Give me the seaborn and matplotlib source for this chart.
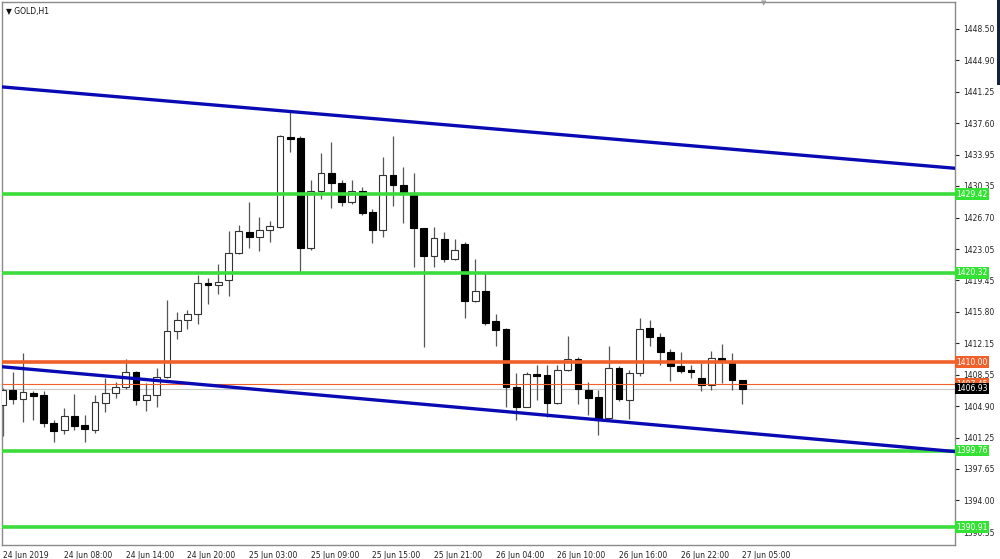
import numpy as np
import pandas as pd
import matplotlib
matplotlib.use("Agg")
import matplotlib.pyplot as plt
import matplotlib.transforms as mtransforms
import seaborn as sns

# ---------------- data (GOLD, H1) ----------------
opens = [1405.0, 1406.8, 1405.7, 1406.4, 1406.2, 1402.9, 1402.1, 1403.8, 1402.7, 1402.2,
         1405.3, 1406.4, 1407.1, 1408.9, 1405.6, 1406.2, 1408.3, 1413.6, 1414.9, 1415.6,
         1419.1, 1418.9, 1419.5, 1422.6, 1425.0, 1424.4, 1425.3, 1425.6, 1436.0, 1435.9,
         1423.2, 1429.8, 1431.8, 1430.7, 1428.5, 1429.8, 1427.3, 1425.3, 1431.6, 1430.5,
         1429.3, 1425.5, 1422.3, 1424.2, 1421.9, 1423.6, 1417.0, 1418.2, 1414.7, 1413.8,
         1407.1, 1404.8, 1408.6, 1408.5, 1405.3, 1409.1, 1410.3, 1406.8, 1406.0, 1403.5,
         1409.3, 1405.6, 1408.7, 1413.9, 1412.9, 1411.2, 1409.5, 1409.1, 1408.2, 1407.4,
         1410.5, 1409.9, 1407.9]
closes = [1406.8, 1405.7, 1406.5, 1406.1, 1402.9, 1402.0, 1403.8, 1402.6, 1402.3, 1405.4,
          1406.4, 1407.1, 1408.9, 1405.6, 1406.2, 1408.3, 1413.6, 1414.9, 1415.6, 1419.1,
          1418.9, 1419.2, 1422.6, 1425.1, 1424.4, 1425.3, 1425.7, 1436.1, 1435.8, 1423.2,
          1429.8, 1431.8, 1430.7, 1428.5, 1429.8, 1427.2, 1425.3, 1431.6, 1430.5, 1429.5,
          1425.5, 1422.3, 1424.3, 1421.9, 1423.0, 1417.0, 1418.2, 1414.5, 1413.7, 1407.1,
          1404.8, 1408.6, 1408.4, 1405.3, 1409.1, 1410.3, 1406.9, 1405.9, 1403.5, 1409.3,
          1405.7, 1408.7, 1413.8, 1412.9, 1411.2, 1409.5, 1409.0, 1408.8, 1407.4, 1410.5,
          1410.2, 1407.9, 1406.93]
highs = [1407.0, 1408.9, 1411.0, 1406.7, 1406.6, 1403.3, 1404.7, 1406.3, 1403.9, 1406.2,
         1408.1, 1407.7, 1410.4, 1409.0, 1407.6, 1409.3, 1417.2, 1415.8, 1416.0, 1420.1,
         1419.7, 1421.3, 1425.1, 1425.8, 1428.5, 1426.8, 1426.3, 1436.2, 1438.9, 1436.1,
         1431.0, 1434.2, 1435.4, 1431.1, 1431.1, 1430.2, 1427.7, 1433.7, 1436.1, 1432.5,
         1431.8, 1425.5, 1425.6, 1425.0, 1424.2, 1423.9, 1421.9, 1420.3, 1415.6, 1413.9,
         1408.7, 1408.8, 1409.6, 1409.6, 1409.6, 1413.0, 1410.6, 1407.7, 1406.8, 1411.9,
         1409.5, 1409.1, 1415.1, 1414.9, 1413.4, 1411.5, 1411.2, 1409.6, 1409.9, 1411.3,
         1412.1, 1411.1, 1407.9]
lows = [1401.4, 1405.2, 1403.1, 1403.3, 1402.5, 1400.7, 1401.7, 1402.1, 1400.7, 1401.8,
        1404.2, 1405.8, 1406.9, 1405.0, 1404.3, 1404.8, 1408.2, 1412.7, 1413.8, 1414.4,
        1416.7, 1417.9, 1417.6, 1422.5, 1423.2, 1422.8, 1423.9, 1425.5, 1434.3, 1420.3,
        1422.9, 1428.9, 1427.8, 1428.0, 1428.3, 1427.0, 1423.8, 1424.5, 1428.0, 1426.1,
        1421.0, 1411.7, 1421.0, 1421.6, 1421.8, 1415.1, 1416.9, 1414.3, 1411.8, 1404.8,
        1403.3, 1404.8, 1405.6, 1403.7, 1405.2, 1409.0, 1405.1, 1403.9, 1401.6, 1403.3,
        1405.5, 1403.4, 1408.4, 1411.8, 1409.7, 1407.8, 1408.7, 1408.1, 1406.6, 1406.8,
        1407.6, 1406.8, 1405.1]

time_labels = ['24 Jun 2019', '24 Jun 08:00', '24 Jun 14:00', '24 Jun 20:00', '25 Jun 03:00',
               '25 Jun 09:00', '25 Jun 15:00', '25 Jun 21:00', '26 Jun 04:00', '26 Jun 10:00',
               '26 Jun 16:00', '26 Jun 22:00', '27 Jun 05:00']
price_ticks = [1448.50, 1444.90, 1441.25, 1437.60, 1433.95, 1430.35, 1426.70, 1423.05,
               1419.45, 1415.80, 1412.15, 1408.55, 1404.90, 1401.25, 1397.65, 1394.00, 1390.35]

# channel lines (bar index -> price)
channel_x = [0, 92.7]
channel_upper = [1441.8, 1432.4]
channel_lower = [1409.45, 1399.65]

green_levels = [1429.42, 1420.32, 1399.76, 1390.91]
orange_level = 1410.00
pivot_level = 1407.45
bid = 1406.93

# ---------------- plot ----------------
sns.set_style('white')
plt.rcParams['font.family'] = ['DejaVu Sans']

fig = plt.figure(figsize=(10, 5.59), dpi=100)
ax = fig.add_axes([0.002, 1 - 545 / 559, 0.953, 543 / 559])

idx = np.arange(len(opens))
df = pd.DataFrame({'open': opens, 'high': highs, 'low': lows, 'close': closes}, index=idx)

# wicks
ax.vlines(df.index, df.low, df.high, color='#555555', lw=0.9, zorder=2)
# bodies
up = df.close >= df.open
body = (df.close - df.open).abs().clip(lower=0.15)
bottom = df[['open', 'close']].min(axis=1)
ax.bar(df.index[up], body[up], bottom=bottom[up], width=0.66, color='white',
       edgecolor='#333333', linewidth=0.8, zorder=3)
ax.bar(df.index[~up], body[~up], bottom=bottom[~up], width=0.66, color='black',
       edgecolor='black', linewidth=0.8, zorder=3)

# horizontal levels
ax.axhline(bid, color='#c8c8c8', lw=0.8, zorder=1)
ax.axhline(pivot_level, color='#f0602a', lw=0.8, zorder=4)
ax.axhline(orange_level, color='#f0602a', lw=2.6, zorder=4)
for g in green_levels:
    ax.axhline(g, color='#3ddc3d', lw=2.6, zorder=4)

# channel
sns.lineplot(x=channel_x, y=channel_upper, color='#0a0ab4', lw=2.4, ax=ax, zorder=5)
sns.lineplot(x=channel_x, y=channel_lower, color='#0a0ab4', lw=2.4, ax=ax, zorder=5)

ax.set_xlim(-0.05, 92.7)
ax.set_ylim(1388.85, 1451.62)

# axes / ticks
for s in ax.spines.values():
    s.set_color('#8a8a8a')
    s.set_linewidth(1.0)
ax.yaxis.tick_right()
ax.set_yticks(price_ticks)
ax.set_yticklabels(['%.2f' % v for v in price_ticks])
ax.set_xticks(np.arange(0, 73, 6))
ax.set_xticklabels(time_labels)
plt.setp(ax.get_xticklabels(), ha='left')
ax.tick_params(axis='both', labelsize=5.5, colors='#222222', length=3, width=0.8,
               direction='out', pad=2)
ax.tick_params(axis='x', pad=1)
ax.tick_params(axis='y', pad=3)
ax.set_xlabel('')
ax.set_ylabel('')

# price tags at the right edge
trans = mtransforms.blended_transform_factory(ax.transAxes, ax.transData)
def tag(val, fc, z):
    ax.text(1.001, val, '%.2f' % val, transform=trans, ha='left', va='center',
            fontsize=5.5, color='white', zorder=z, clip_on=False,
            bbox=dict(boxstyle='square,pad=0.18', fc=fc, ec='none'))

for g in green_levels:
    tag(g, '#33e233', 10)
tag(orange_level, '#f0602a', 10)
tag(pivot_level, '#f0602a', 10)
tag(bid, 'black', 11)

fig.text(0.006, 0.987, '\u25bc GOLD,H1', fontsize=5.5, color='#111111', ha='left', va='top')

# chart shift marker at the top and the dark window strip on the right edge
fig.text(0.764, 0.999, '\u25bc', fontsize=5, color='#9a9a9a', ha='center', va='top')
fig.patches.append(plt.Rectangle((0.997, 1 - 85 / 559), 0.003, 85 / 559,
                                 transform=fig.transFigure, fc='#12223a', ec='none'))

fig.savefig('out.png', dpi=100, facecolor='white')
